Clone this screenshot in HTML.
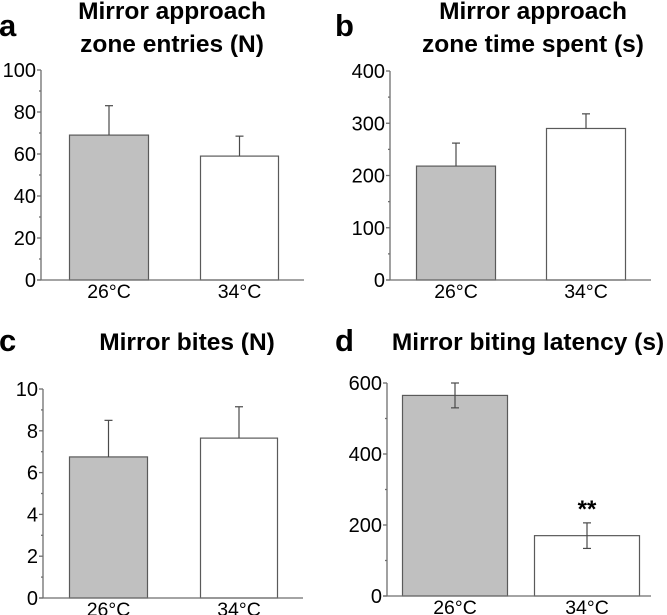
<!DOCTYPE html>
<html><head><meta charset="utf-8">
<style>
html,body{margin:0;padding:0;background:#fff;}
svg{display:block;}
text{font-family:"Liberation Sans",Arial,sans-serif;fill:#000;}
.tt{font-weight:bold;font-size:24.5px;text-anchor:middle;}
.pl{font-weight:bold;font-size:31px;}
.tk{font-size:20px;text-anchor:end;}
.xl{font-size:19.5px;text-anchor:middle;}
</style></head>
<body>
<svg id="fig" width="667" height="615" viewBox="0 0 667 615" xmlns="http://www.w3.org/2000/svg">
  <text class="pl" x="-1" y="36">a</text>
  <text class="tt" x="172" y="19">Mirror approach</text>
  <text class="tt" x="172" y="52">zone entries (N)</text>
  <text class="pl" x="335" y="36">b</text>
  <text class="tt" x="533" y="19">Mirror approach</text>
  <text class="tt" x="533" y="52">zone time spent (s)</text>
  <text class="pl" x="-1" y="351">c</text>
  <text class="tt" x="187" y="350">Mirror bites (N)</text>
  <text class="pl" x="335" y="351">d</text>
  <text class="tt" x="528" y="350">Mirror biting latency (s)</text>
</svg>
<script>
const categories = ["26°C", "34°C"];
const valuesA = [69, 59];
const errA = [14, 9.5];
const ticksA = [0, 20, 40, 60, 80, 100];
const valuesB = [218, 290];
const errB = [44, 28];
const ticksB = [0, 100, 200, 300, 400];
const valuesC = [6.75, 7.65];
const errC = [1.75, 1.5];
const ticksC = [0, 2, 4, 6, 8, 10];
const valuesD = [565, 170];
const errD = [35, 36];
const ticksD = [0, 200, 400, 600];
const sigD = ["", "**"];

const NS = "http://www.w3.org/2000/svg";
const svg = document.getElementById("fig");
function mk(tag, attrs, parent) {
  const e = document.createElementNS(NS, tag);
  for (const k in attrs) e.setAttribute(k, attrs[k]);
  (parent || svg).appendChild(e);
  return e;
}

function panel(id, g, vals, errs, ticks, both, sig) {
  const grp = mk("g", {});
  
  
  const max = ticks[ticks.length - 1];
  const y = v => g.y0 - (v / max) * (g.y0 - g.yTop);
  vals.forEach((v, i) => {
    const x0 = g.bars[i][0], x1 = g.bars[i][1];
    const r = mk("rect", {x: x0 + 0.5, y: y(v), width: x1 - x0, height: g.y0 - y(v),
      fill: i === 0 ? "#c0c0c0" : "#ffffff", stroke: "#5a5a5a", "stroke-width": 1.2}, grp);
    
    
    const cx = (x0 + x1) / 2 + 0.5;
    const top = y(v + errs[i]);
    const bot = both ? y(v - errs[i]) : y(v);
    const eb = mk("g", {stroke: "#4a4a4a", "stroke-width": 1.2}, grp);
    
    
    mk("line", {x1: cx, x2: cx, y1: top, y2: bot}, eb);
    mk("line", {x1: cx - 4, x2: cx + 4, y1: top, y2: top}, eb);
    if (both) mk("line", {x1: cx - 4, x2: cx + 4, y1: bot, y2: bot}, eb);
    const lab = mk("text", {class: "xl", x: cx, y: g.y0 + 18}, grp);
    lab.textContent = categories[i];
    
    
    if (sig && sig[i]) {
      const s = mk("text", {x: cx, y: top - 6, "text-anchor": "middle", "font-size": "24", "font-weight": "bold"}, grp);
      s.textContent = sig[i];
      
      
    }
  });
  const ax = mk("g", {stroke: "#6e6e6e", "stroke-width": 1.3}, grp);
  
  
  mk("line", {x1: g.ax, x2: g.ax, y1: g.yTop, y2: g.y0}, ax);
  mk("line", {x1: g.ax - 4, x2: g.xEnd, y1: g.y0, y2: g.y0}, ax);
  for (let i = 0; i < ticks.length; i++) {
    mk("line", {x1: g.ax - 4, x2: g.ax, y1: y(ticks[i]), y2: y(ticks[i])}, ax);
    if (i < ticks.length - 1) {
      const m = (ticks[i] + ticks[i + 1]) / 2;
      mk("line", {x1: g.ax - 2, x2: g.ax, y1: y(m), y2: y(m)}, ax);
    }
    const t = mk("text", {class: "tk", x: g.ax - 5, y: y(ticks[i]) + 7}, grp);
    t.textContent = ticks[i];
    
    
  }
}

panel("a", {ax: 41, yTop: 70, y0: 280, xEnd: 304, bars: [[69, 148], [200, 278]]}, valuesA, errA, ticksA, false);
panel("b", {ax: 390, yTop: 71, y0: 280, xEnd: 651, bars: [[416, 495], [546, 625]]}, valuesB, errB, ticksB, false);
panel("c", {ax: 43, yTop: 389, y0: 598, xEnd: 303, bars: [[69, 147], [200, 277]]}, valuesC, errC, ticksC, false);
panel("d", {ax: 387, yTop: 383, y0: 596, xEnd: 651, bars: [[402, 507], [534, 639]]}, valuesD, errD, ticksD, true, sigD);
</script>
</body></html>
